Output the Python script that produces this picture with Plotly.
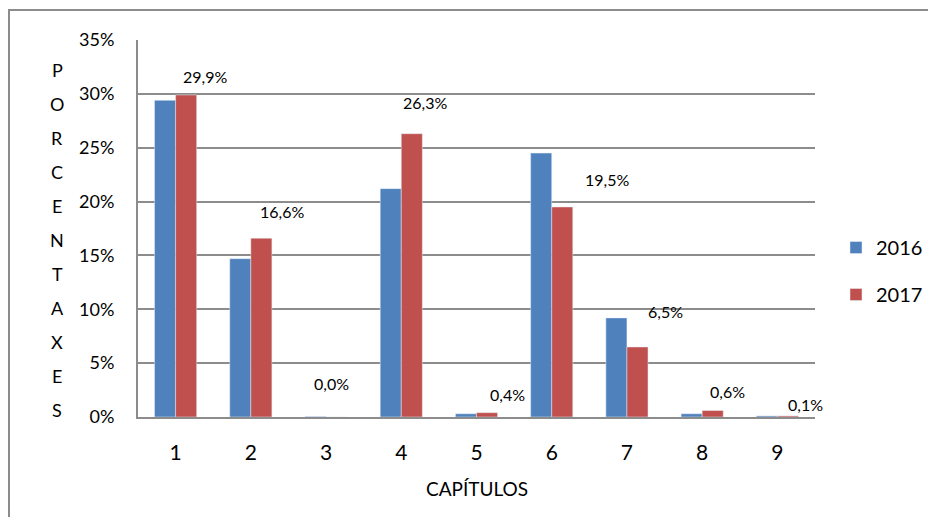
import plotly.graph_objects as go

# data
capitulos = [1, 2, 3, 4, 5, 6, 7, 8, 9]
pct_2016 = [29.4, 14.7, 0.05, 21.2, 0.3, 24.5, 9.2, 0.3, 0.1]
pct_2017 = [29.9, 16.6, 0.0, 26.3, 0.4, 19.5, 6.5, 0.6, 0.1]
y_ticks = [0, 5, 10, 15, 20, 25, 30, 35]
y_title = "PORCENTAXES"
x_title = "CAPÍTULOS"

# hand-placed label nudges (px) as in the original sheet
label_dx = [29, 31, 5, 24, 31, 55, 39, 25, 28]
label_dy = [18, 27, 34, 31, 18, 27, 35, 19, 11]

BLUE = "#4F81BD"
RED = "#C0504D"
GRID = "#8c8c8c"
FONT = "Lato, 'Open Sans', sans-serif"

# page has an 8px body margin, so the figure is drawn 8px in
PAD = 8
W, H = 936 - 2 * PAD, 525 - 2 * PAD
ML, MT = 138 - PAD, 40 - PAD
MR = W - (815 - PAD)
MB = H - (417 - PAD)
plot_w = W - ML - MR
plot_h = H - MT - MB


def px_x(page_x):
    return (page_x - PAD - ML) / plot_w


def px_y(page_y):
    return (H - MB - (page_y - PAD)) / plot_h


fig = go.Figure()
fig.add_trace(go.Bar(x=capitulos, y=pct_2016, name="2016", marker_color=BLUE,
                     legendgroup="a", hoverinfo="y"))
fig.add_trace(go.Bar(x=capitulos, y=pct_2017, name="2017", marker_color=RED,
                     legendgroup="b", hoverinfo="y"))

# data labels for 2017 only
for c, v, dx, dy in zip(capitulos, pct_2017, label_dx, label_dy):
    fig.add_annotation(x=c, y=v, xref="x", yref="y", text=f"{v:.1f}".replace(".", ",") + "%",
                       showarrow=False, xshift=dx, yshift=dy,
                       font=dict(size=16, color="#000000", family=FONT))

# stacked vertical axis title, one letter per row
n = len(y_title)
top_px, bot_px = 70, 410
for i, ch in enumerate(y_title):
    ypx = top_px + (bot_px - top_px) * i / (n - 1)
    fig.add_annotation(x=px_x(57), y=px_y(ypx), xref="paper", yref="paper",
                       text=ch, showarrow=False, xanchor="center", yanchor="middle",
                       font=dict(size=18, color="#000000", family=FONT))

fig.add_annotation(x=0.5, y=px_y(488), xref="paper", yref="paper", text=x_title,
                   showarrow=False, yanchor="middle", font=dict(size=19, color="#000000", family=FONT))

# outer chart-area frame
fig.add_shape(type="rect", xref="paper", yref="paper",
              x0=px_x(PAD + 1), x1=px_x(960), y0=px_y(560), y1=px_y(10),
              line=dict(color=GRID, width=2), fillcolor="rgba(0,0,0,0)", layer="below")

fig.update_xaxes(range=[0.5, 9.5], tickmode="array", tickvals=capitulos, ticktext=[str(c) for c in capitulos],
                 showgrid=False, showline=True, linecolor=GRID, linewidth=2, zeroline=False,
                 ticks="", ticklabelstandoff=16, tickfont=dict(size=21, color="#000000", family=FONT))
fig.update_yaxes(range=[0, 35], tickmode="array", tickvals=y_ticks, ticktext=[f"{t}%" for t in y_ticks],
                 showgrid=True, gridcolor=GRID, gridwidth=2, showline=True, linecolor=GRID, linewidth=2,
                 zeroline=False, ticks="", ticklabelstandoff=18,
                 tickfont=dict(size=18, color="#000000", family=FONT))

fig.update_layout(width=W, height=H, barmode="group", bargap=0.44, bargroupgap=0,
                  margin=dict(l=ML, r=MR, t=MT, b=MB, autoexpand=False),
                  paper_bgcolor="white", plot_bgcolor="white",
                  font=dict(family=FONT, color="#000000"),
                  legend=dict(x=px_x(836), y=px_y(271), xanchor="left", yanchor="middle",
                              font=dict(size=20, color="#000000", family=FONT),
                              traceorder="grouped", tracegroupgap=18, bgcolor="rgba(0,0,0,0)"),
                  showlegend=True)

fig.write_html("out.html")
